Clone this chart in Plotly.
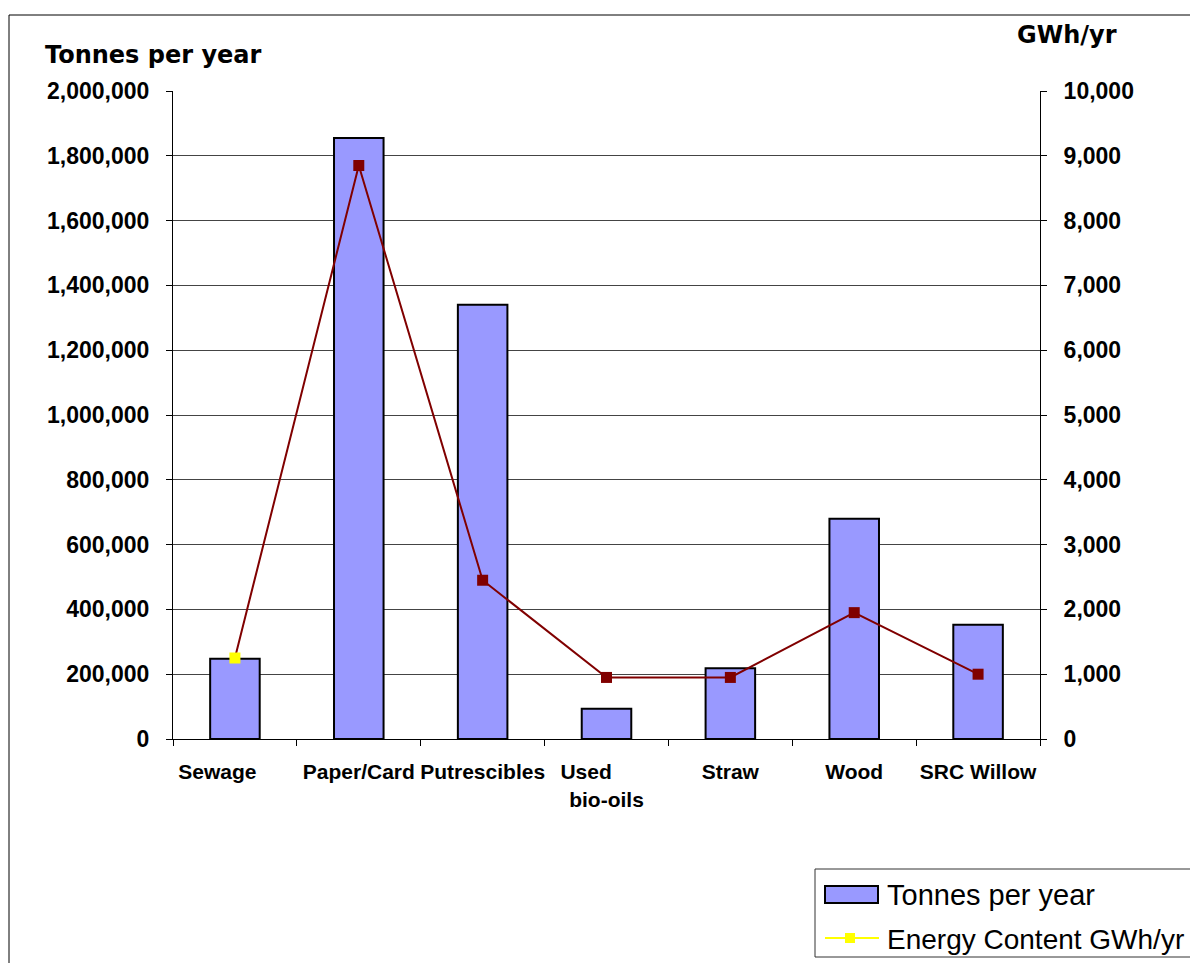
import plotly.graph_objects as go

categories = ["Sewage" + "\u00a0" * 6, "Paper/Card", "Putrescibles", "Used" + "\u00a0" * 7 + "<br>bio-oils", "Straw", "Wood", "SRC Willow"]
tonnes_per_year = [248000, 1855000, 1340000, 93000, 218000, 680000, 353000]
energy_gwh = [1250, 8850, 2450, 950, 950, 1950, 1000]
marker_colors = ["#FFFF00", "#800000", "#800000", "#800000", "#800000", "#800000", "#800000"]
left_ticks = list(range(0, 2000001, 200000))
right_ticks = list(range(0, 10001, 1000))

OFF = 8  # page body margin
W, H = 1198 - OFF, 963 - OFF
L, T = 173 - OFF, 91 - OFF
R = W - (1040 - OFF)
B = H - (739 - OFF)
PW, PH = W - L - R, H - T - B


def px(X):
    return (X - OFF - L) / PW


def py(Y):
    return (H - B - (Y - OFF)) / PH


fig = go.Figure()
fig.add_trace(go.Bar(
    x=categories, y=tonnes_per_year, name="Tonnes per year",
    marker=dict(color="#9999FF", line=dict(color="black", width=2)),
    width=0.4, showlegend=False,
))
fig.add_trace(go.Scatter(
    x=categories, y=energy_gwh, yaxis="y2", mode="lines+markers",
    name="Energy Content GWh/yr",
    line=dict(color="#800000", width=2),
    marker=dict(symbol="square", size=11, color=marker_colors),
    showlegend=False,
))

tickfont = dict(family="Liberation Sans, Arial", size=23, color="black", weight="bold")

fig.update_layout(
    width=W, height=H,
    margin=dict(l=L, r=R, t=T, b=B),
    paper_bgcolor="white", plot_bgcolor="white",
    bargap=0.6,
    xaxis=dict(
        showline=True, linecolor="black", linewidth=1,
        ticks="outside", ticklen=6, tickcolor="black", tickson="boundaries",
        tickangle=0,
        tickfont=dict(family="Liberation Sans, Arial", size=21, color="black", weight="bold"),
        ticklabelstandoff=14, showgrid=False,
    ),
    yaxis=dict(
        range=[0, 2000000], tickvals=left_ticks, tickformat=",d",
        showline=True, linecolor="black", linewidth=1,
        ticks="outside", ticklen=6, tickcolor="black",
        showgrid=True, gridcolor="#444444", gridwidth=1,
        zeroline=False, tickfont=tickfont, ticklabelstandoff=12,
    ),
    yaxis2=dict(
        range=[0, 10000], tickvals=right_ticks, tickformat=",d",
        overlaying="y", side="right",
        showline=True, linecolor="black", linewidth=1,
        ticks="outside", ticklen=6, tickcolor="black",
        showgrid=False, zeroline=False, tickfont=tickfont, ticklabelstandoff=12,
    ),
)

shapes = [
    # outer chart frame
    dict(type="rect", xref="paper", yref="paper", x0=px(9), x1=px(1215), y0=py(985), y1=py(15),
         line=dict(color="black", width=1), fillcolor="rgba(0,0,0,0)", layer="below"),
    # legend box
    dict(type="rect", xref="paper", yref="paper", x0=px(815), x1=px(1195), y0=py(957), y1=py(869),
         line=dict(color="#333333", width=1), fillcolor="white"),
    # legend bar symbol
    dict(type="rect", xref="paper", yref="paper", x0=px(825), x1=px(878), y0=py(903), y1=py(886),
         line=dict(color="black", width=2), fillcolor="#9999FF"),
    # legend line symbol
    dict(type="line", xref="paper", yref="paper", x0=px(825), x1=px(879), y0=py(938), y1=py(938),
         line=dict(color="#FFFF00", width=2)),
    dict(type="rect", xref="paper", yref="paper", x0=px(845), x1=px(855), y0=py(943), y1=py(933),
         line=dict(color="#FFFF00", width=0), fillcolor="#FFFF00"),
]
fig.update_layout(shapes=shapes)

title_font = dict(family="DejaVu Sans", size=24, color="black", weight="bold")
fig.update_layout(annotations=[
    dict(text="Tonnes per year", xref="paper", yref="paper", x=px(43), y=py(55),
         xanchor="left", yanchor="middle", showarrow=False, font=title_font),
    dict(text="GWh/yr", xref="paper", yref="paper", x=px(1015), y=py(35),
         xanchor="left", yanchor="middle", showarrow=False, font=title_font),
    dict(text="Tonnes per year", xref="paper", yref="paper", x=px(885), y=py(895),
         xanchor="left", yanchor="middle", showarrow=False,
         font=dict(family="Liberation Sans, Arial", size=29, color="black")),
    dict(text="Energy Content GWh/yr", xref="paper", yref="paper", x=px(885), y=py(939),
         xanchor="left", yanchor="middle", showarrow=False,
         font=dict(family="Liberation Sans, Arial", size=28, color="black")),
])

fig.write_html("out.html")
